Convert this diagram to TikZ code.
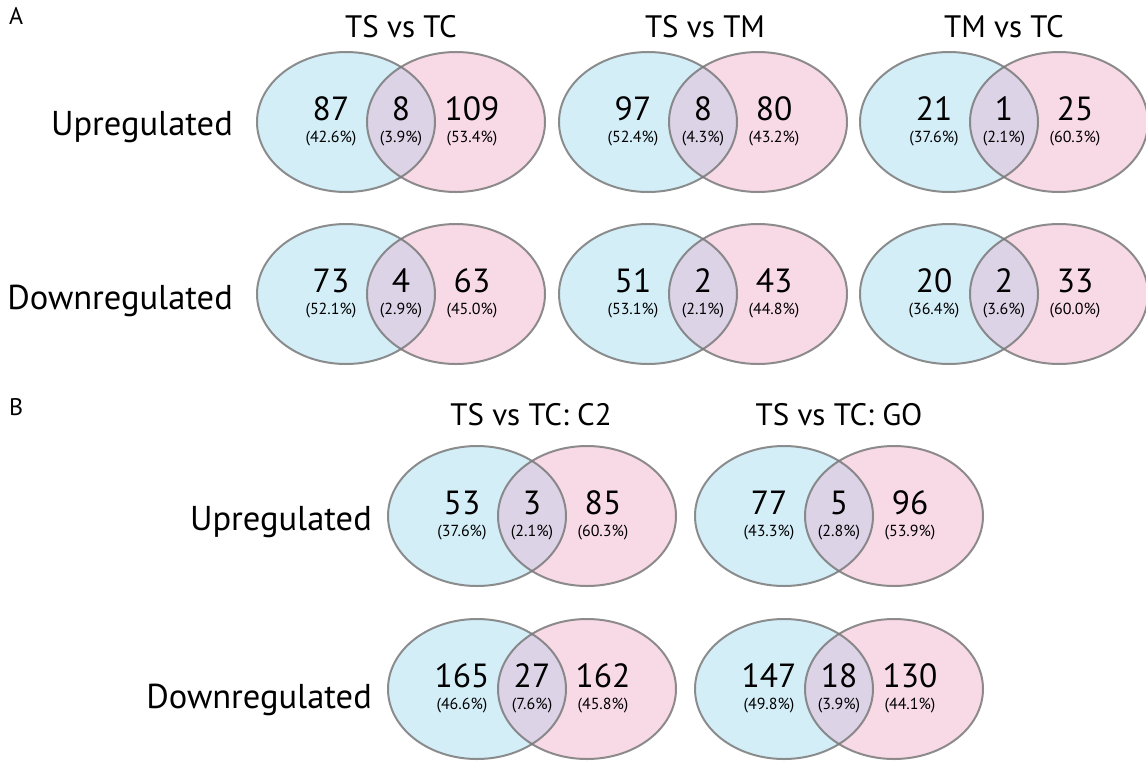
\documentclass[tikz,border=0pt]{standalone}
\usepackage{fontspec}
\setmainfont{PT Sans}
\usetikzlibrary{positioning}
\definecolor{vblue}{HTML}{D4EEF8}
\definecolor{vpink}{HTML}{F8DAE6}
\definecolor{vboth}{HTML}{DCD3E6}
\definecolor{vline}{HTML}{7A7A7A}

\begin{document}
\begin{tikzpicture}[x=1pt,y=-1pt,
  big/.style={font=\fontsize{33.5}{36}\selectfont, inner sep=0pt, anchor=base},
  pct/.style={font=\fontsize{16}{18}\selectfont, inner sep=0pt, anchor=base},
  title/.style={font=\fontsize{31}{34}\selectfont, inner sep=0pt, anchor=base},
  rowlabel/.style={font=\fontsize{34.5}{38}\selectfont, inner sep=0pt, anchor=base east},
  panel/.style={font=\fontsize{24}{26}\selectfont, inner sep=0pt, anchor=base west},
  ring/.style={draw=vline, line width=2pt, draw opacity=0.85}]
\useasboundingbox (0,0) rectangle (1146,761);

% panel letters and row labels
\node [panel] (pA) at (9,24) {A};
\node [panel] (pB) at (9,415) {B};
\node [rowlabel] (upA) at (233,135) {Upregulated};
\node [rowlabel] (downA) at (233,309) {Downregulated};
\node [rowlabel] (upB) at (372,530) {Upregulated};
\node [rowlabel] (downB) at (372,708) {Downregulated};

% titles
\node [title] (t1) at (401,37) {TS vs TC};
\node [title] (t2) at (705,37) {TS vs TM};
\node [title] (t3) at (1004,37) {TM vs TC};
\node [title] (t4) at (531,425) {TS vs TC: C2};
\node [title] (t5) at (839,425) {TS vs TC: GO};

% the venn pairs
\foreach [count=\i] \ox/\oy/\na/\nb/\nc/\pa/\pb/\pc in {
  401/122/87/8/109/42.6/3.9/53.4,
  703/122/97/8/80/52.4/4.3/43.2,
  1004/122/21/1/25/37.6/2.1/60.3,
  401/294/73/4/63/52.1/2.9/45.0,
  703/294/51/2/43/53.1/2.1/44.8,
  1004/294/20/2/33/36.4/3.6/60.0,
  532/516/53/3/85/37.6/2.1/60.3,
  839/516/77/5/96/43.3/2.8/53.9,
  532/689/165/27/162/46.6/7.6/45.8,
  839/689/147/18/130/49.8/3.9/44.1} {
  \coordinate (l\i) at (\ox-55,\oy);
  \coordinate (r\i) at (\ox+55,\oy);
  \fill [vblue] (l\i) ellipse [x radius=89pt, y radius=70pt];
  \fill [vpink] (r\i) ellipse [x radius=89pt, y radius=70pt];
  \begin{scope}
    \clip (l\i) ellipse [x radius=89pt, y radius=70pt];
    \fill [vboth] (r\i) ellipse [x radius=89pt, y radius=70pt];
  \end{scope}
  \draw [ring] (l\i) ellipse [x radius=89pt, y radius=70pt];
  \draw [ring] (r\i) ellipse [x radius=89pt, y radius=70pt];
  \node [big] (na\i) at (\ox-70,\oy-2) {\na};
  \node [big] (nb\i) at (\ox,\oy-2) {\nb};
  \node [big] (nc\i) at (\ox+71,\oy-2) {\nc};
  \node [pct] (pa\i) at (\ox-70,\oy+20) {(\pa\%)};
  \node [pct] (pb\i) at (\ox,\oy+20) {(\pb\%)};
  \node [pct] (pc\i) at (\ox+71,\oy+20) {(\pc\%)};
}
\end{tikzpicture}
\end{document}
